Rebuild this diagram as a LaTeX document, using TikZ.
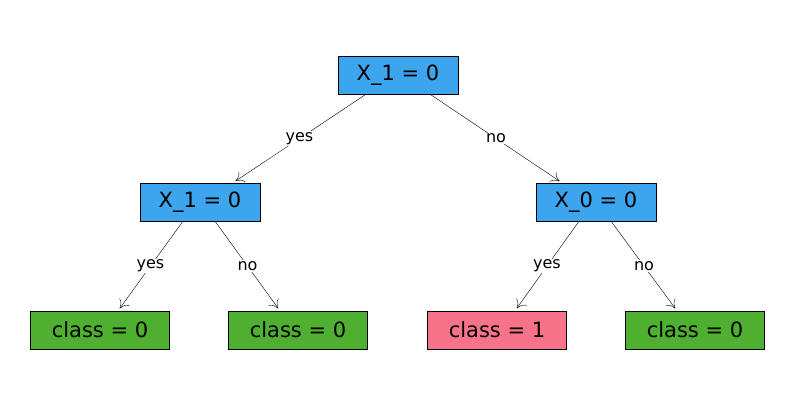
\documentclass[tikz,border=0pt]{standalone}
\usepackage{fontspec}
\setmainfont{DejaVu Sans}
\usetikzlibrary{positioning,arrows.meta}
\definecolor{splitblue}{HTML}{3DA5EE}
\definecolor{leafgreen}{HTML}{4EAF30}
\definecolor{leafpink}{HTML}{F7738A}
\begin{document}
\begin{tikzpicture}[x=1pt,y=-1pt]
        \tikzstyle{box}=[draw, inner sep=0pt, minimum height=38pt, font=\fontsize{21}{24}\selectfont]
        \tikzstyle{split}=[box, fill=splitblue, minimum width=120pt]
        \tikzstyle{leaf}=[box, minimum width=139pt]
        \tikzstyle{lbl}=[fill=white, inner sep=1pt, font=\fontsize{16}{18}\selectfont]
        \tikzstyle{edge}=[-{To[length=8pt,width=12pt,open]}, shorten >=3pt]
        \useasboundingbox (0,0) rectangle (795,405);

        \node[split] (root) at (398,75) {X\_1 = 0};
        \node[split] (l)    at (200,202) {X\_1 = 0};
        \node[split] (r)    at (596,202) {X\_0 = 0};
        \node[leaf, fill=leafgreen] (ll) at (100,330) {class = 0};
        \node[leaf, fill=leafgreen] (lr) at (298,330) {class = 0};
        \node[leaf, fill=leafpink]  (rl) at (497,330) {class = 1};
        \node[leaf, fill=leafgreen] (rr) at (695,330) {class = 0};

        \draw[edge] ([xshift=-32pt]root.south) -- node[lbl] {yes} ([xshift=33pt]l.north);
        \draw[edge] ([xshift=32pt]root.south) -- node[lbl] {no} ([xshift=-34pt]r.north);
        \draw[edge] ([xshift=-17pt]l.south) -- node[lbl] {yes} ([xshift=18pt]ll.north);
        \draw[edge] ([xshift=15pt]l.south) -- node[lbl] {no} ([xshift=-18pt]lr.north);
        \draw[edge] ([xshift=-17pt]r.south) -- node[lbl] {yes} ([xshift=18pt]rl.north);
        \draw[edge] ([xshift=15pt]r.south) -- node[lbl] {no} ([xshift=-18pt]rr.north);
\end{tikzpicture}
\end{document}
